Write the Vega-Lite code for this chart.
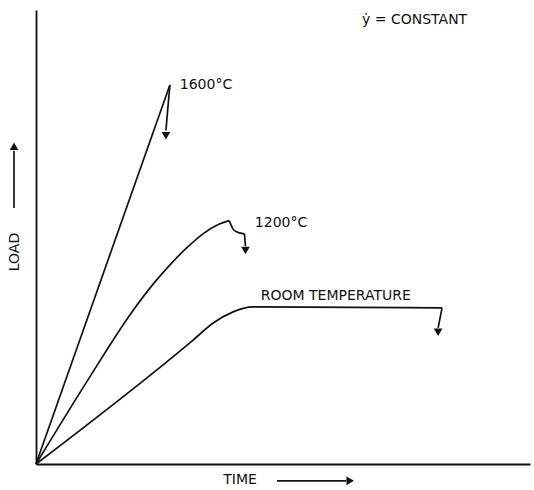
{
  "$schema": "https://vega.github.io/schema/vega-lite/v6.json",
  "width": 494,
  "height": 454,
  "autosize": {"type": "none"},
  "padding": {"left": 36, "top": 10, "right": 4, "bottom": 26},
  "background": "white",
  "config": {
    "view": {"stroke": null},
    "axis": {"domainColor": "#111", "domainWidth": 1.8, "ticks": false, "labels": false, "grid": false, "title": null},
    "text": {"font": "DejaVu Sans", "fontSize": 14, "color": "#111"}
  },
  "datasets": {
    "smooth": [
      {"series": "1600°C", "i": 0, "t": 0, "L": 0},
      {"series": "1600°C", "i": 1, "t": 27.1, "L": 83.5},
      {"series": "1200°C", "i": 0, "t": 0, "L": 0},
      {"series": "1200°C", "i": 1, "t": 10.9, "L": 19.2},
      {"series": "1200°C", "i": 2, "t": 19.5, "L": 33.6},
      {"series": "1200°C", "i": 3, "t": 24.0, "L": 40.0},
      {"series": "1200°C", "i": 4, "t": 27.4, "L": 44.2},
      {"series": "1200°C", "i": 5, "t": 30.6, "L": 47.7},
      {"series": "1200°C", "i": 6, "t": 33.8, "L": 50.7},
      {"series": "1200°C", "i": 7, "t": 37.0, "L": 52.8},
      {"series": "1200°C", "i": 8, "t": 39.1, "L": 53.6},
      {"series": "1200°C drop", "i": 0, "t": 39.1, "L": 53.6},
      {"series": "1200°C drop", "i": 1, "t": 40.0, "L": 51.6},
      {"series": "1200°C drop", "i": 2, "t": 41.2, "L": 50.9},
      {"series": "1200°C drop", "i": 3, "t": 42.2, "L": 50.7},
      {"series": "ROOM TEMPERATURE", "i": 0, "t": 0, "L": 0},
      {"series": "ROOM TEMPERATURE", "i": 1, "t": 31.8, "L": 27.3},
      {"series": "ROOM TEMPERATURE", "i": 2, "t": 35.8, "L": 31.0},
      {"series": "ROOM TEMPERATURE", "i": 3, "t": 39.9, "L": 33.5},
      {"series": "ROOM TEMPERATURE", "i": 4, "t": 43.9, "L": 34.6},
      {"series": "ROOM TEMPERATURE", "i": 5, "t": 82.2, "L": 34.4}
    ],
    "straight": [
      {"series": "1600°C drop", "i": 0, "t": 27.1, "L": 83.5},
      {"series": "1600°C drop", "i": 1, "t": 26.3, "L": 73.5},
      {"series": "1200°C tail", "i": 0, "t": 42.2, "L": 50.7},
      {"series": "1200°C tail", "i": 1, "t": 42.4, "L": 48.0},
      {"series": "room drop", "i": 0, "t": 82.2, "L": 34.4},
      {"series": "room drop", "i": 1, "t": 81.4, "L": 30.0},
      {"series": "time-arrow", "i": 0, "t": 48.8, "L": -3.7},
      {"series": "time-arrow", "i": 1, "t": 62.8, "L": -3.7},
      {"series": "load-arrow", "i": 0, "t": -4.45, "L": 56.4},
      {"series": "load-arrow", "i": 1, "t": -4.45, "L": 69.0}
    ],
    "heads": [
      {"dir": "down", "t": 26.3, "L": 72.3},
      {"dir": "down", "t": 42.4, "L": 47.0},
      {"dir": "down", "t": 81.4, "L": 29.0},
      {"dir": "right", "t": 63.6, "L": -3.7},
      {"dir": "up", "t": -4.45, "L": 70.0}
    ],
    "labels": [
      {"text": "1600°C", "t": 29.1, "L": 83.5},
      {"text": "1200°C", "t": 44.3, "L": 53.1},
      {"text": "ROOM TEMPERATURE", "t": 45.5, "L": 37.0},
      {"text": "ẏ = CONSTANT", "t": 66.0, "L": 97.8},
      {"text": "TIME", "t": 37.9, "L": -3.5}
    ]
  },
  "encoding": {
    "x": {"field": "t", "type": "quantitative", "scale": {"domain": [0, 100], "nice": false, "zero": false}, "axis": {"orient": "bottom"}},
    "y": {"field": "L", "type": "quantitative", "scale": {"domain": [0, 100], "nice": false, "zero": false}, "axis": {"orient": "left"}}
  },
  "layer": [
    {
      "data": {"name": "smooth"},
      "mark": {"type": "line", "interpolate": "monotone", "color": "#111", "strokeWidth": 1.7, "clip": false, "strokeJoin": "round"},
      "encoding": {
        "detail": {"field": "series", "type": "nominal"},
        "order": {"field": "i", "type": "quantitative"}
      }
    },
    {
      "data": {"name": "straight"},
      "mark": {"type": "line", "color": "#111", "strokeWidth": 1.7, "clip": false, "strokeJoin": "round"},
      "encoding": {
        "detail": {"field": "series", "type": "nominal"},
        "order": {"field": "i", "type": "quantitative"}
      }
    },
    {
      "data": {"name": "heads"},
      "mark": {"type": "point", "filled": true, "color": "#111", "opacity": 1, "size": 75, "clip": false},
      "encoding": {
        "shape": {"field": "dir", "type": "nominal", "legend": null,
          "scale": {"domain": ["down", "up", "right"], "range": ["triangle-down", "triangle-up", "triangle-right"]}}
      }
    },
    {
      "data": {"name": "labels"},
      "mark": {"type": "text", "align": "left", "baseline": "middle", "clip": false},
      "encoding": {"text": {"field": "text", "type": "nominal"}}
    },
    {
      "data": {"values": [{"text": "LOAD", "t": -4.25, "L": 46.7}]},
      "mark": {"type": "text", "align": "center", "baseline": "middle", "angle": 270, "clip": false},
      "encoding": {"text": {"field": "text", "type": "nominal"}}
    }
  ]
}
